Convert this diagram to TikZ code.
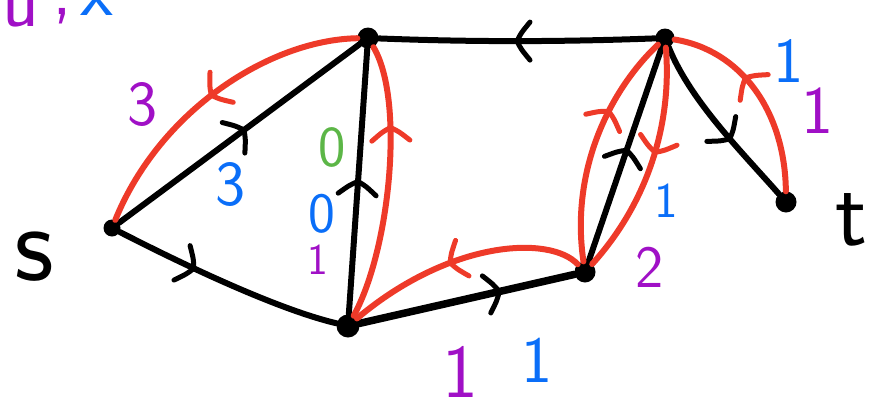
\documentclass[tikz,border=0pt]{standalone}
\usepackage{fontspec}
\usetikzlibrary{decorations.markings}
\definecolor{rpath}{HTML}{EE3A29}
\definecolor{pcap}{HTML}{A010C6}
\definecolor{bflow}{HTML}{0A6EF8}
\definecolor{gval}{HTML}{5CB647}
\tikzset{
 vtx/.style={circle,fill=black,inner sep=0pt,minimum size=#1},
 vtx/.default=16pt,
 bedge/.style={line width=6pt,line cap=round,black},
 redge/.style={line width=6pt,line cap=round,rpath},
 tipshape/.style={line width=5pt,line cap=round,line join=round},
 btip/.style={postaction={decorate},decoration={markings,mark=at position #1 with {\draw[tipshape,black] (-13pt,19pt) .. controls (-4pt,8pt) .. (0pt,0pt) .. controls (-4pt,-8pt) .. (-13pt,-19pt);}}},
 rtip/.style={postaction={decorate},decoration={markings,mark=at position #1 with {\draw[tipshape,rpath] (-13pt,19pt) .. controls (-4pt,8pt) .. (0pt,0pt) .. controls (-4pt,-8pt) .. (-13pt,-19pt);}}},
 lab/.style={inner sep=0pt,font=\fontsize{#1}{#1}\sffamily\selectfont},
}
\begin{document}
\begin{tikzpicture}[x=1pt,y=-1pt]
\useasboundingbox (0,0) rectangle (873,402);
\node[vtx=17pt] (s) at (112,228) {};
\node[vtx=21pt] (A) at (368,38) {};
\node[vtx=23pt] (B) at (348,326) {};
\node[vtx=21pt] (C) at (585,272) {};
\node[vtx=19pt] (D) at (665,38) {};
\node[vtx=21pt] (t) at (786,202) {};
% black edges
\draw[bedge,btip=0.52] (s) -- (A);
\draw[bedge,btip=0.35] (s) .. controls (190,268) and (280,310) .. (B);
\draw[bedge,btip=0.5] (B) -- (A);
\draw[bedge,btip=0.5] (D) .. controls (560,42) and (470,42) .. (A);
\draw[bedge,line width=7.5pt,btip=0.65] (B) -- (C);
\draw[bedge,btip=0.52] (C) -- (D);
\draw[bedge,btip=0.6] (D) .. controls (690,100) and (740,150) .. (t);
% red paths
\draw[redge,rtip=0.5] (A) .. controls (270,40) and (160,110) .. (s);
\draw[redge,rtip=0.7] (B) .. controls (390,250) and (405,100) .. (A);
\draw[redge,rtip=0.55] (C) .. controls (550,235) and (450,240) .. (B);
\draw[redge,rtip=0.65] (C) .. controls (570,170) and (610,90) .. (D);
\draw[redge,rtip=0.45] (D) .. controls (672,120) and (650,200) .. (C);
\draw[redge,rtip=0.6] (t) .. controls (785,110) and (740,50) .. (D);
% labels
\node[lab=64,text=pcap] (l1) at (143,105) {3};
\node[lab=64,text=bflow] (l2) at (231,185) {3};
\node[lab=58,text=gval] (l3) at (332,147) {0};
\node[lab=57,text=bflow] (l4) at (322,214) {0};
\node[lab=44,text=pcap] (l5) at (318,260) {1};
\node[lab=50,text=bflow] (l6) at (666,201) {1};
\node[lab=60,text=pcap] (l7) at (650,267) {2};
\node[lab=64,text=bflow] (l8) at (789,61) {1};
\node[lab=68,text=pcap] (l9) at (817,111) {1};
\node[lab=76,text=pcap] (l10) at (460,372) {1};
\node[lab=66,text=bflow] (l11) at (537,360) {1};
\node[lab=110] (sl) at (34,257) {s};
\node[lab=94] (tl) at (851,220) {t};
\node[lab=76,text=pcap,anchor=south] (hu) at (21,27) {u};
\node[lab=76,text=pcap,anchor=base] (hc) at (62,14) {,};
\node[lab=76,text=bflow,anchor=south] (hx) at (97,16) {x};
\end{tikzpicture}
\end{document}
